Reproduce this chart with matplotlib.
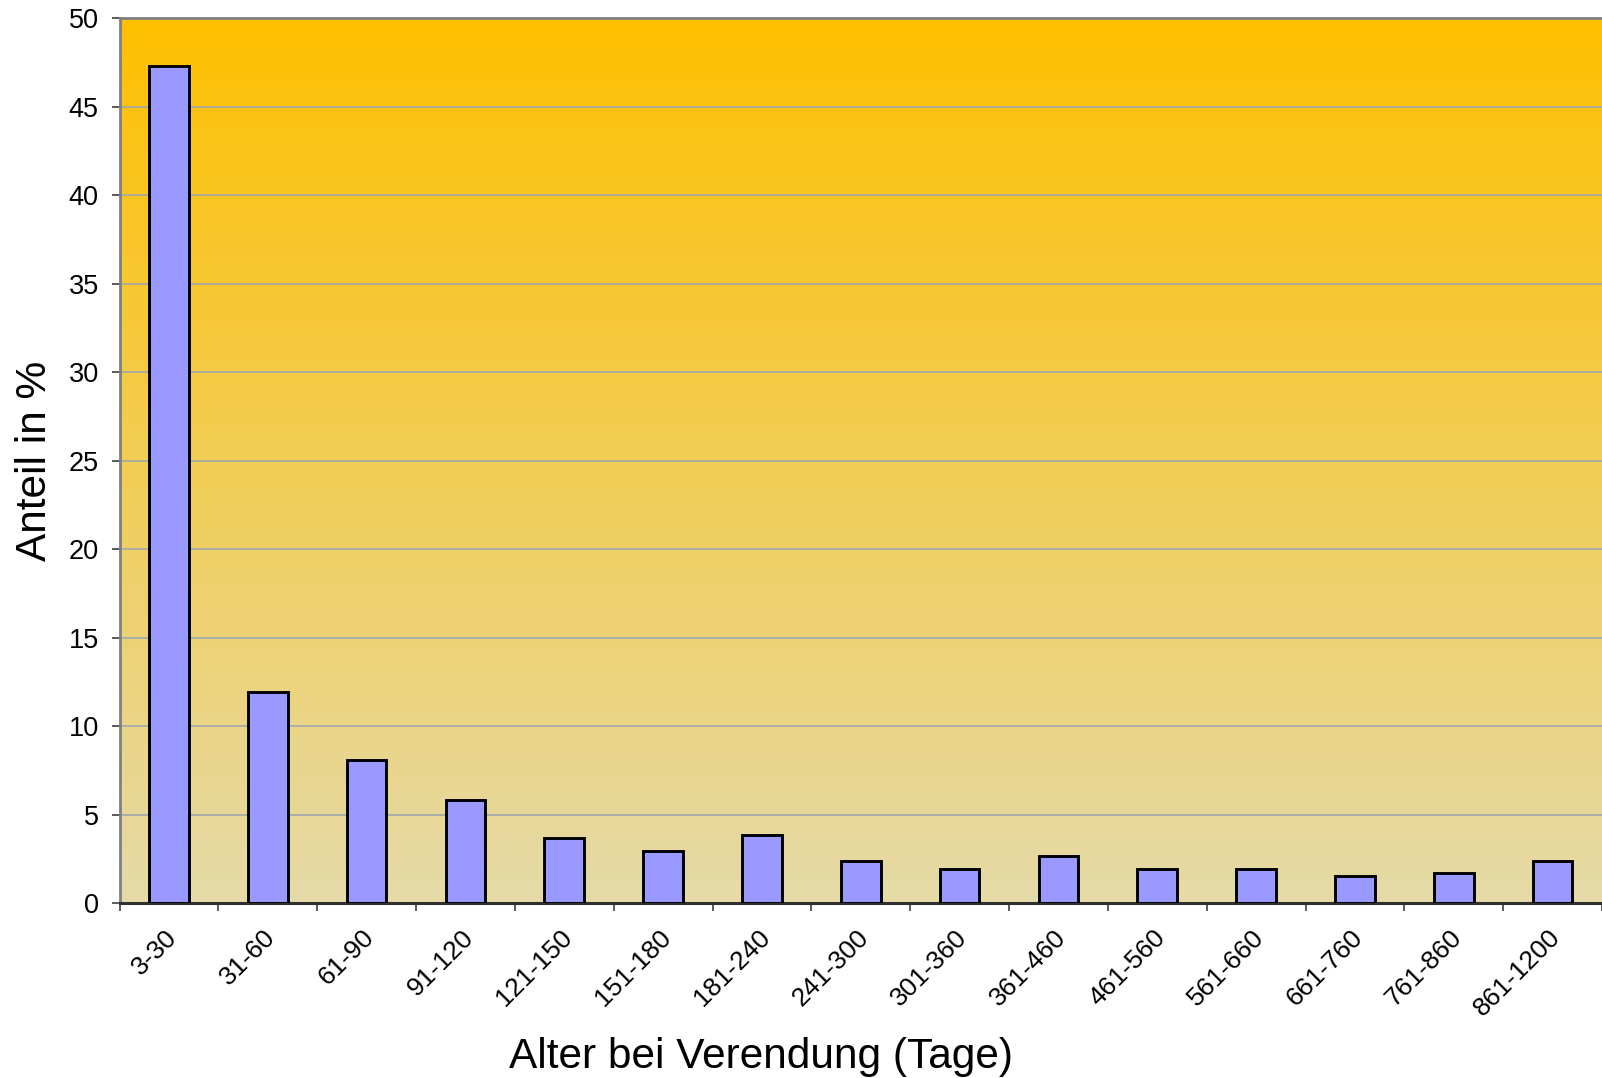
import matplotlib.pyplot as plt
import matplotlib.colors as mcolors
import matplotlib.transforms as mtransforms
import numpy as np

plt.rcParams['font.family'] = ['Liberation Sans', 'DejaVu Sans']

categories = ["3-30", "31-60", "61-90", "91-120", "121-150", "151-180", "181-240",
              "241-300", "301-360", "361-460", "461-560", "561-660", "661-760",
              "761-860", "861-1200"]
anteil = [47.3, 11.9, 8.1, 5.8, 3.7, 2.95, 3.85, 2.35, 1.9, 2.65, 1.9, 1.95, 1.5, 1.7, 2.4]

fig = plt.figure(figsize=(16.02, 10.78), dpi=100)
ax = fig.add_axes([0.0746, 0.1623, 0.9254, 0.8207])

x = np.arange(len(categories))
xmin, xmax = -0.5, len(categories) - 0.5

# background gradient, orange on top fading to beige
cmap = mcolors.LinearSegmentedColormap.from_list("bg", ["#E5DAA8", "#FFC000"])
grad = np.linspace(0, 1, 256).reshape(-1, 1)
ax.imshow(grad, extent=[xmin, xmax, 0, 50], origin="lower", aspect="auto",
          cmap=cmap, zorder=0)

ax.bar(x, anteil, width=0.4, color="#9999FF", edgecolor="black", linewidth=2.1, zorder=3)

ax.set_xlim(xmin, xmax)
ax.set_ylim(0, 50)
ax.set_yticks(np.arange(0, 51, 5))
ax.yaxis.grid(True, color="#9EA8AE", linewidth=1.2)
ax.set_axisbelow(True)

# ticks at category boundaries, labels at category centers
ax.set_xticks(np.arange(len(categories) + 1) - 0.5)
ax.set_xticklabels([])
ax.set_xticks(x, minor=True)
ax.set_xticklabels(categories, minor=True, rotation=45, ha="right", va="center",
                   rotation_mode="anchor", fontsize=19)
ax.tick_params(axis="x", which="minor", length=0, pad=22)
ax.tick_params(axis="x", which="major", length=6, width=1.2, color="#404040")
ax.tick_params(axis="y", length=6, width=1.2, color="#404040", labelsize=19.5, pad=9)

shift = mtransforms.ScaledTranslation(4 / 100, 0, fig.dpi_scale_trans)
for lbl in ax.get_xticklabels(minor=True):
    lbl.set_transform(lbl.get_transform() + shift)

for side in ["top", "left"]:
    ax.spines[side].set_color("#808080")
    ax.spines[side].set_linewidth(2)
ax.spines["bottom"].set_color("#303030")
ax.spines["bottom"].set_linewidth(2.2)
ax.spines["right"].set_visible(False)

ax.set_ylabel("Anteil in %", fontsize=30.5)
ax.yaxis.set_label_coords(-0.0435, 0.5)
ax.set_xlabel("Alter bei Verendung (Tage)", fontsize=30.5)
ax.xaxis.set_label_coords(0.4327, -0.151)

plt.savefig("out.png", dpi=100)
